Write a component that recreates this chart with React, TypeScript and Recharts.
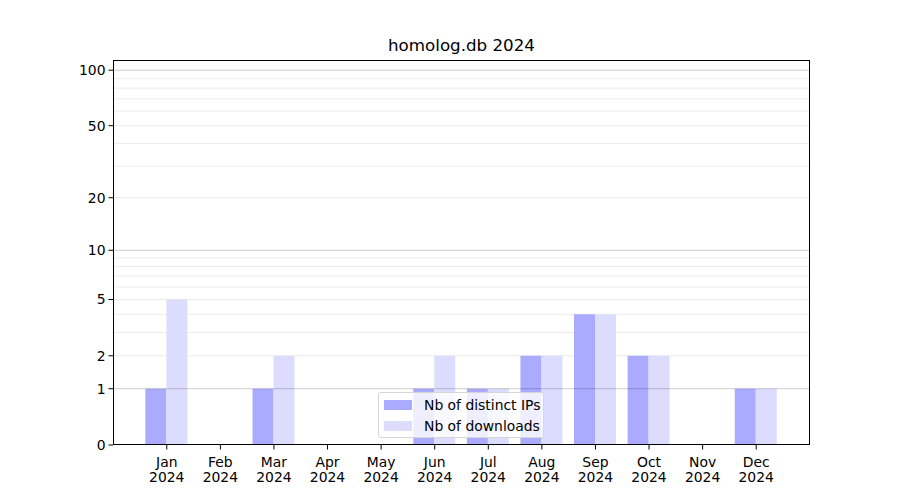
import React from "react";
import { BarChart, Bar, XAxis, YAxis, ReferenceLine, CartesianGrid } from "recharts";

const months = ["Jan", "Feb", "Mar", "Apr", "May", "Jun", "Jul", "Aug", "Sep", "Oct", "Nov", "Dec"];
const year = "2024";
const distinctIps = [1, 0, 1, 0, 0, 1, 1, 2, 4, 2, 0, 1];
const downloads = [5, 0, 2, 0, 0, 2, 1, 2, 4, 2, 0, 1];
const yTicks = [0, 1, 2, 5, 10, 20, 50, 100];
const majorGrid = [1, 10, 100];
const minorGrid = [2, 3, 4, 5, 6, 7, 8, 9, 20, 30, 40, 50, 60, 70, 80, 90];

const FONT = "'DejaVu Sans', sans-serif";
const IP_COLOR = "#aaaaff";
const DL_COLOR = "#dcdcff";

const data = months.map((m, i) => ({
  month: m,
  ips: distinctIps[i],
  downloads: downloads[i],
}));

function MonthTick(props: any) {
  const { x, y, payload } = props;
  return (
    <text x={x} y={y} textAnchor="middle" fill="#000" fontSize={13.9} fontFamily={FONT}>
      <tspan x={x} dy={15}>{payload.value}</tspan>
      <tspan x={x} dy={15.5}>{year}</tspan>
    </text>
  );
}

export default function App() {
  return (
    <div style={{ position: "relative", width: 900, height: 500, margin: -8, background: "#fff", fontFamily: FONT }}>
      <div
        style={{
          position: "absolute",
          left: 113,
          width: 697,
          top: 35,
          textAlign: "center",
          fontSize: 16.7,
          color: "#000",
        }}
      >
        homolog.db 2024
      </div>
      <BarChart
        width={900}
        height={500}
        data={data}
        margin={{ top: 60, right: 90, bottom: 0, left: 53 }}
        barCategoryGap="10%"
        barGap={0}
      >
        <CartesianGrid vertical={false} horizontalValues={minorGrid} stroke="#ebebeb" />
        <XAxis
          dataKey="month"
          height={55}
          padding={{ left: 27, right: 27 }}
          axisLine={false}
          tickLine={{ stroke: "#000" }}
          tickSize={4.5}
          tick={<MonthTick />}
          interval={0}
        />
        <YAxis
          width={60}
          scale="symlog"
          domain={[0, 113.5]}
          allowDataOverflow
          ticks={yTicks}
          interval={0}
          axisLine={false}
          tickLine={{ stroke: "#000" }}
          tickSize={4.5}
          tickMargin={3}
          tick={{ fill: "#000", fontSize: 13.9, fontFamily: FONT }}
        />
        <Bar dataKey="ips" fill={IP_COLOR} isAnimationActive={false} />
        <Bar dataKey="downloads" fill={DL_COLOR} isAnimationActive={false} />
        {majorGrid.map((v) => (
          <ReferenceLine key={"ma" + v} y={v} stroke="#000" strokeOpacity={0.2} strokeWidth={1} ifOverflow="hidden" />
        ))}
      </BarChart>
      <div
        style={{
          position: "absolute",
          left: 113,
          top: 60,
          width: 697,
          height: 385,
          boxSizing: "border-box",
          border: "1px solid #000",
          pointerEvents: "none",
        }}
      />
      <div
        style={{
          position: "absolute",
          left: 378,
          top: 392,
          width: 166,
          height: 46,
          boxSizing: "border-box",
          border: "1px solid #d6d6d6",
          borderRadius: 3,
          background: "rgba(255,255,255,0.8)",
          fontSize: 13.9,
          color: "#000",
        }}
      >
        {[
          { label: "Nb of distinct IPs", color: IP_COLOR },
          { label: "Nb of downloads", color: DL_COLOR },
        ].map((item, i) => (
          <div key={item.label} style={{ position: "absolute", left: 5, top: 6 + i * 21, height: 12, display: "flex", alignItems: "center" }}>
            <span style={{ display: "inline-block", width: 28, height: 10, background: item.color, marginRight: 12 }} />
            <span style={{ whiteSpace: "nowrap" }}>{item.label}</span>
          </div>
        ))}
      </div>
    </div>
  );
}
